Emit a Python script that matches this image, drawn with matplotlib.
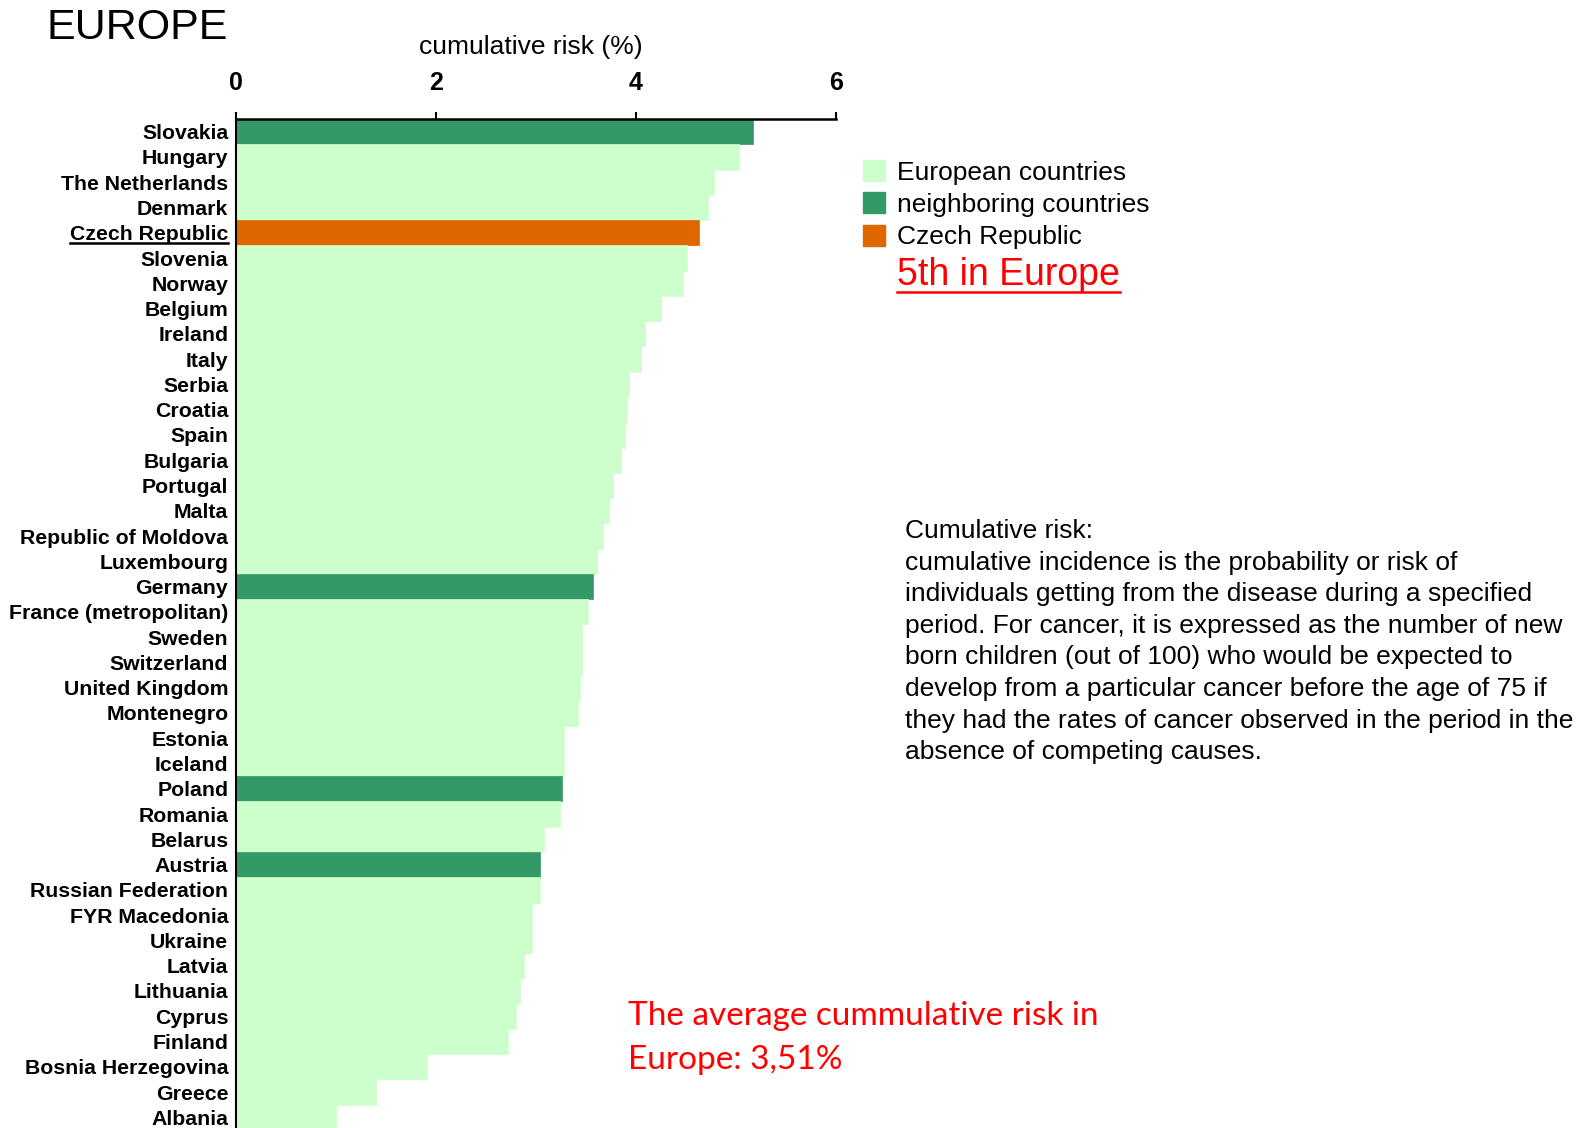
import matplotlib.pyplot as plt
from matplotlib.patches import Patch
from matplotlib.lines import Line2D

countries = ['Slovakia', 'Hungary', 'The Netherlands', 'Denmark', 'Czech Republic',
             'Slovenia', 'Norway', 'Belgium', 'Ireland', 'Italy', 'Serbia', 'Croatia',
             'Spain', 'Bulgaria', 'Portugal', 'Malta', 'Republic of Moldova',
             'Luxembourg', 'Germany', 'France (metropolitan)', 'Sweden', 'Switzerland',
             'United Kingdom', 'Montenegro', 'Estonia', 'Iceland', 'Poland', 'Romania',
             'Belarus', 'Austria', 'Russian Federation', 'FYR Macedonia', 'Ukraine',
             'Latvia', 'Lithuania', 'Cyprus', 'Finland', 'Bosnia Herzegovina',
             'Greece', 'Albania']
risk = [5.17, 5.03, 4.78, 4.72, 4.63, 4.51, 4.47, 4.25, 4.09, 4.05, 3.93, 3.91,
        3.89, 3.85, 3.77, 3.73, 3.67, 3.61, 3.57, 3.52, 3.46, 3.46, 3.44, 3.42,
        3.28, 3.28, 3.26, 3.24, 3.08, 3.04, 3.04, 2.96, 2.96, 2.88, 2.84, 2.80,
        2.72, 1.91, 1.40, 1.00]
neighbors = ['Slovakia', 'Germany', 'Poland', 'Austria']
home = 'Czech Republic'

c_eu = '#CCFFCC'
c_nb = '#339966'
c_cz = '#E06600'

colors = []
for c in countries:
    if c == home:
        colors.append(c_cz)
    elif c in neighbors:
        colors.append(c_nb)
    else:
        colors.append(c_eu)

plt.rcParams['font.family'] = ['Liberation Sans', 'DejaVu Sans']

fig = plt.figure(figsize=(15.83, 11.28), dpi=100)
W, H = 1583, 1128
ax = fig.add_axes([236 / W, -2 / H, (836 - 236) / W, (1130 - 119) / H])

y = list(range(len(countries)))
ax.barh(y, risk, height=1.0, color=colors, edgecolor=colors, linewidth=0.5)
ax.set_ylim(len(countries) - 0.5, -0.5)
ax.set_xlim(0, 6)
ax.set_yticks(y)
ax.set_yticklabels(countries, fontsize=15.3, fontweight='bold')
ax.tick_params(axis='y', length=0, pad=5.5)
ax.xaxis.tick_top()
ax.set_xticks([0, 2, 4, 6])
ax.set_xticklabels(['0', '2', '4', '6'], fontsize=18, fontweight='bold')
ax.tick_params(axis='x', direction='out', length=5, width=1.5, pad=12.5)
for s in ['right', 'bottom']:
    ax.spines[s].set_visible(False)
ax.spines['top'].set_linewidth(1.8)
ax.spines['left'].set_linewidth(1.5)

fig.text(531 / W, 1 - 47 / H, 'cumulative risk (%)', fontsize=19, ha='center', va='center')
fig.text(47 / W, 1 - 28 / H, 'EUROPE', fontsize=31, ha='left', va='center')

handles = [Patch(color=c_eu), Patch(color=c_nb), Patch(color=c_cz)]
fig.legend(handles, ['European countries', 'neighboring countries', 'Czech Republic'],
           loc='upper left', bbox_to_anchor=(863 / W, 1 - 160 / H), frameon=False,
           fontsize=19, handlelength=0.85, handleheight=0.85, handletextpad=0.42,
           labelspacing=0.29, borderpad=0, borderaxespad=0)

t5 = fig.text(897 / W, 1 - 275 / H, '5th in Europe', fontsize=27, color='red',
              ha='left', va='center')

note = ('Cumulative risk:\n'
        'cumulative incidence is the probability or risk of\n'
        'individuals getting from the disease during a specified\n'
        'period. For cancer, it is expressed as the number of new\n'
        'born children (out of 100) who would be expected to\n'
        'develop from a particular cancer before the age of 75 if\n'
        'they had the rates of cancer observed in the period in the\n'
        'absence of competing causes.')
fig.text(905 / W, 1 - 519 / H, note, fontsize=19, ha='left', va='top', linespacing=1.40)

fig.text(628 / W, 1 - 1038 / H, 'The average cummulative risk in\nEurope: 3,51%',
         fontsize=24, color='red', ha='left', va='center', linespacing=1.55,
         family=['Lato', 'DejaVu Sans'])

# underline the Czech label and the "5th in Europe" note
fig.canvas.draw()
r = fig.canvas.get_renderer()
inv = fig.transFigure.inverted()
for t in [ax.get_yticklabels()[countries.index(home)], t5]:
    bb = t.get_window_extent(r)
    x0, y0 = inv.transform((bb.x0, bb.y0 + 1))
    x1, _ = inv.transform((bb.x1, bb.y0 + 1))
    fig.add_artist(Line2D([x0, x1], [y0, y0], transform=fig.transFigure,
                          color=t.get_color(), lw=1.8))

fig.savefig('out.png', dpi=100)
